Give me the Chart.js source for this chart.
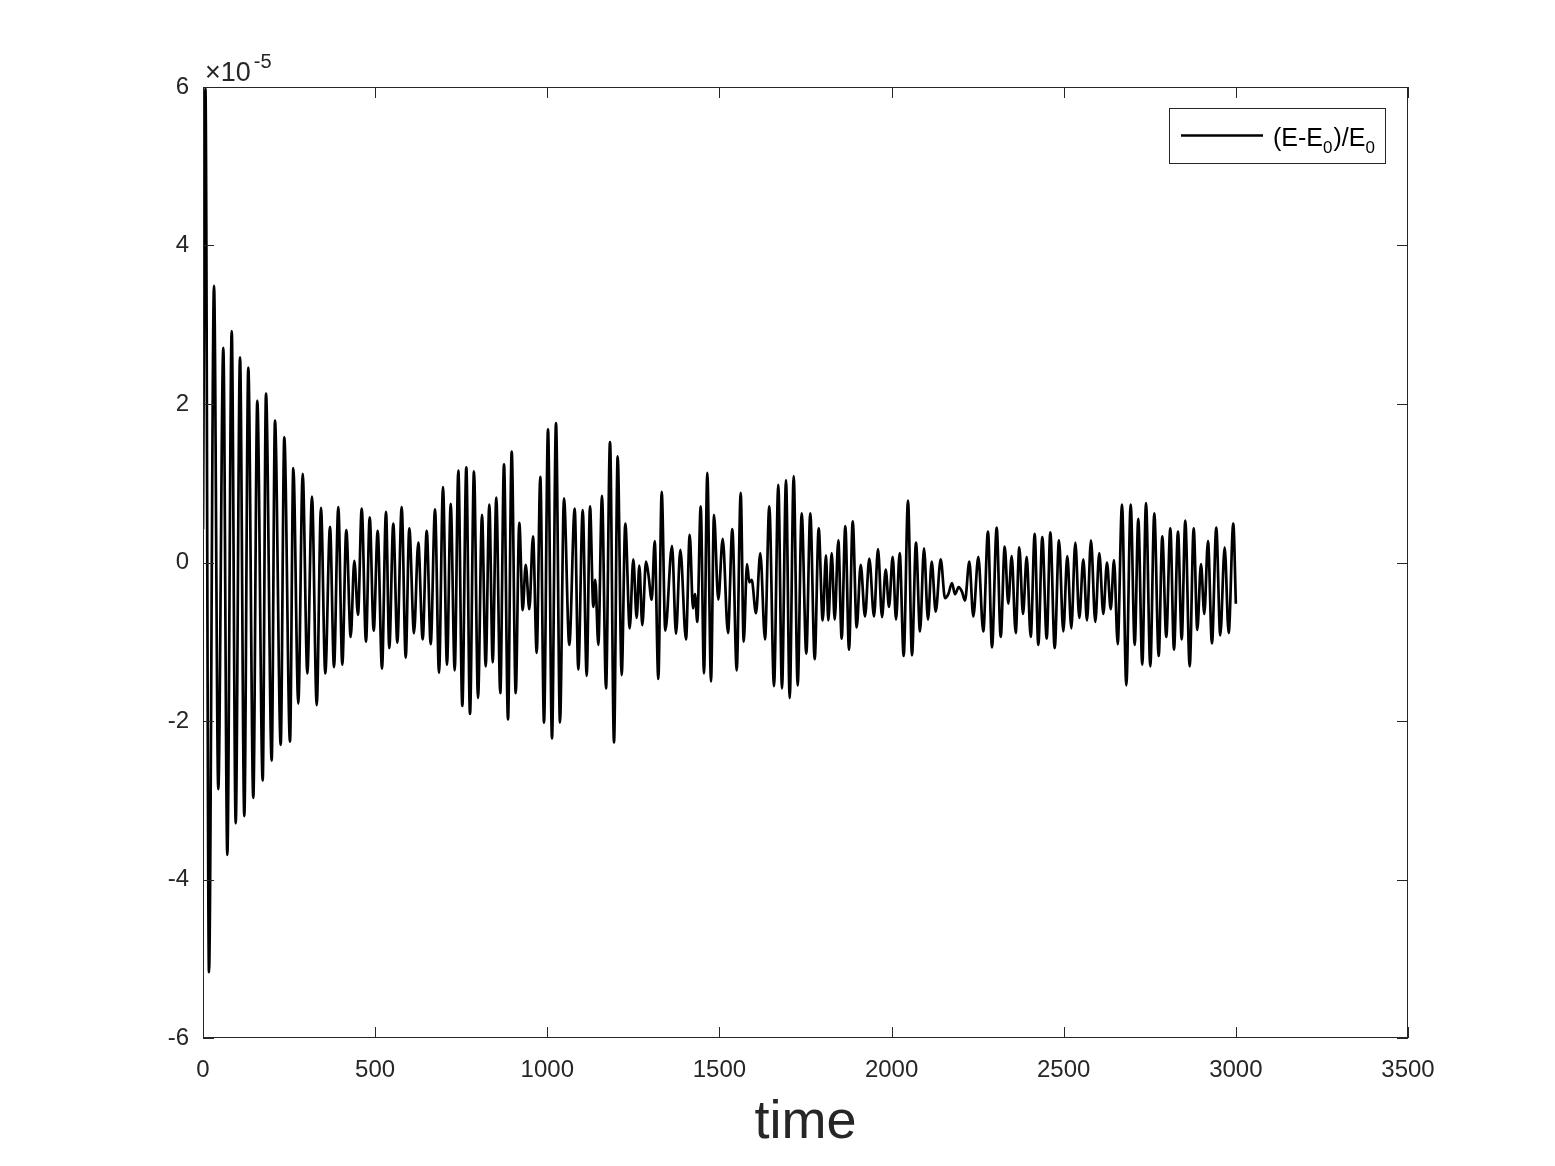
<!DOCTYPE html>
<html><head><meta charset="utf-8">
<script src="https://cdn.jsdelivr.net/npm/chart.js@4/dist/chart.umd.min.js"></script>
<style>html,body{margin:0;padding:0;background:#fff;}canvas{display:block;}</style>
</head><body>
<canvas id="c" width="1555" height="1166"></canvas>
<script>
// time samples (extrema / shape points)
const timePoints = [
  0, 7, 17.4, 32, 44.4, 59, 70.6, 83.4, 95, 107.5, 120, 131.6, 146.1, 157.7, 173.4, 183, 199.5, 209.1, 225.7, 236.1, 252.7, 262.3, 276.8, 289.6,
  303, 316.6, 330.3, 342.7, 355.2, 368.9, 380.5, 393, 404.6, 416.2, 429, 439.5, 450.2, 461, 473.4, 484.2, 495.8, 507.4, 519.9, 531.5, 541.1, 552.7, 564.4, 577.1, 588.8,
  599.2, 612.9, 625.3, 638.1, 649.8, 661.4, 673.9, 685.5, 697.1, 708.7, 719.5, 731.1, 741.6, 753.2, 764.8, 775.5, 787.1, 798.8, 810.4, 821.1, 831.6, 841.5, 851.9, 863.5, 874.3, 885.9, 896.6,
  908.3, 918.7, 928.6, 937.3, 947.8, 958.5, 969.3, 979.7, 990.5, 1002.1, 1013.7, 1025.3, 1036.9, 1048.5, 1063.9, 1079.6, 1090.1, 1102.9, 1114.5, 1124.1, 1133.7, 1139.5, 1148.2, 1158.9, 1170.6, 1182.2, 1193.8, 1204.5,
  1216.1, 1226.6, 1239.4, 1249.8, 1259.7, 1267.3, 1276, 1286.7, 1293.4, 1303.3, 1312, 1322.5, 1332.3, 1342.8, 1362.3, 1373.9, 1386.4, 1402.9, 1413.7, 1423.3, 1429, 1435.7, 1445.6, 1455.2, 1464.8, 1475.5, 1484.2, 1496.7, 1509.5,
  1524.9, 1537.4, 1550.2, 1561.8, 1570.5, 1580.1, 1586.8, 1593.7, 1606.2, 1618.7, 1632.4, 1644.8, 1658.5, 1671, 1681.7, 1693.4, 1704.1, 1715.7, 1727.3, 1738.9, 1752.3, 1763.9, 1776.7, 1788.3, 1799.9, 1809.5,
  1816.2, 1826.1, 1834.8, 1845.3, 1855.1, 1865.6, 1876.4, 1887.1, 1898.7, 1910.3, 1922.8, 1935.3, 1949, 1960.6, 1972.2, 1983, 1992.5, 2003.3, 2012.9, 2023.6, 2035.2, 2047.7, 2059.3, 2070.9, 2082.6, 2094.2, 2105.8, 2116.6,
  2128.2, 2142.7, 2155.2, 2164.8, 2175.5, 2184.3, 2195, 2204.6, 2213.3, 2225.8, 2237.4, 2251.9, 2266.4, 2280, 2291.7, 2305.3, 2317, 2328.6, 2339, 2348.9, 2360.5, 2371, 2381.7, 2392.5, 2404.1, 2415.7,
  2426.2, 2437.8, 2450.6, 2461.1, 2473.8, 2486.3, 2498.8, 2510.4, 2522.1, 2533.7, 2545.3, 2556.9, 2567.6, 2579.2, 2591.7, 2603.3, 2615, 2625.7, 2636.5, 2646.1, 2656.8, 2669.3, 2681.8, 2694.5, 2706.2, 2716.6, 2728.2,
  2739, 2751.5, 2763.1, 2775.9, 2786.3, 2797.9, 2809.6, 2820.3, 2831.9, 2842.7, 2853.1, 2865.9, 2877.5, 2888, 2898.7, 2908.3, 2919, 2930.6, 2943.1, 2954.7, 2967.5, 2979.1, 2992.5, 3000
];
// (E-E0)/E0 in units of 1e-5
const relEnergyError = [
  0.42, 5.98, -5.17, 3.49, -2.86, 2.71, -3.69, 2.92, -3.29, 2.59, -3.20, 2.46, -2.97, 2.04, -2.75, 2.13, -2.50, 1.79, -2.30, 1.58, -2.26, 1.19, -1.78, 1.12,
  -1.40, 0.83, -1.80, 0.69, -1.40, 0.45, -1.32, 0.70, -1.29, 0.41, -0.94, 0.02, -0.66, 0.68, -1.00, 0.57, -0.86, 0.40, -1.34, 0.64, -1.08, 0.49, -1.01, 0.70, -1.20,
  0.43, -0.89, 0.25, -0.97, 0.40, -1.03, 0.67, -1.39, 0.95, -1.29, 0.74, -1.36, 1.16, -1.81, 1.20, -1.91, 1.15, -1.71, 0.60, -1.31, 0.73, -1.26, 0.82, -1.65, 1.24, -1.98, 1.40,
  -1.65, 0.50, -0.60, -0.03, -0.59, 0.33, -1.14, 1.08, -2.02, 1.68, -2.22, 1.76, -2.02, 0.81, -1.04, 0.68, -1.35, 0.66, -1.43, 0.71, -0.56, -0.22, -1.04, 0.84, -1.59, 1.52, -2.27, 1.34,
  -1.42, 0.49, -0.83, 0.04, -0.70, -0.04, -0.79, 0.01, -0.14, -0.47, 0.27, -1.47, 0.89, -0.86, 0.21, -0.90, 0.16, -0.97, 0.35, -0.58, -0.40, -0.75, 0.71, -1.40, 1.13, -1.50, 0.60, -0.47, 0.30,
  -0.89, 0.42, -1.36, 0.88, -1.00, -0.02, -0.25, -0.22, -0.64, 0.12, -0.97, 0.71, -1.56, 0.98, -1.59, 1.04, -1.71, 1.09, -1.55, 0.62, -1.15, 0.62, -1.22, 0.43, -0.73, 0.09,
  -0.73, 0.12, -0.72, 0.28, -0.96, 0.46, -1.10, 0.52, -0.82, -0.03, -0.68, 0.05, -0.68, 0.17, -0.69, -0.09, -0.56, 0.07, -0.72, 0.12, -1.18, 0.78, -1.17, 0.25, -0.87, 0.18, -0.72, 0.01,
  -0.62, 0.04, -0.45, -0.40, -0.26, -0.40, -0.31, -0.37, -0.48, 0.01, -0.68, 0.07, -0.87, 0.39, -1.07, 0.44, -0.94, 0.20, -0.52, 0.08, -0.89, 0.19, -0.65, 0.07, -0.94, 0.36,
  -1.04, 0.32, -0.96, 0.38, -1.08, 0.28, -0.87, 0.08, -0.83, 0.25, -0.70, 0.04, -0.73, 0.28, -0.75, 0.12, -0.65, 0.00, -0.59, 0.03, -1.03, 0.73, -1.55, 0.73, -1.04, 0.55, -1.29,
  0.75, -1.31, 0.62, -1.18, 0.33, -0.94, 0.43, -1.10, 0.39, -0.97, 0.53, -1.31, 0.43, -0.85, -0.02, -0.65, 0.27, -1.02, 0.44, -0.92, 0.19, -0.89, 0.49, -0.52
];
const xTickValues = [0, 500, 1000, 1500, 2000, 2500, 3000, 3500];
const yTickValues = [-6, -4, -2, 0, 2, 4, 6];
const yExponentBase = '\u00D710';
const yExponent = '-5';
const xTitle = 'time';

const AX = '#262626';
const FONT = '"Liberation Sans", Arial, Helvetica, sans-serif';

const points = timePoints.map((t, i) => ({x: t, y: relEnergyError[i]}));

const framePlugin = {
  id: 'frame',
  afterDraw(chart) {
    const {ctx, chartArea: a, scales: {x, y}} = chart;
    ctx.save();
    ctx.strokeStyle = AX;
    ctx.lineWidth = 1;
    ctx.strokeRect(Math.round(a.left) + 0.5, Math.round(a.top) + 0.5, Math.round(a.right - a.left) - 1, Math.round(a.bottom - a.top) - 1);
    const tl = 11;
    ctx.beginPath();
    xTickValues.forEach(v => {
      const px = Math.round(x.getPixelForValue(v)) + 0.5;
      ctx.moveTo(px, a.bottom); ctx.lineTo(px, a.bottom - tl);
      ctx.moveTo(px, a.top); ctx.lineTo(px, a.top + tl);
    });
    yTickValues.forEach(v => {
      const py = Math.round(y.getPixelForValue(v)) + 0.5;
      ctx.moveTo(a.left, py); ctx.lineTo(a.left + tl, py);
      ctx.moveTo(a.right, py); ctx.lineTo(a.right - tl, py);
    });
    ctx.stroke();

    // exponent label
    ctx.fillStyle = AX;
    ctx.textBaseline = 'alphabetic';
    ctx.textAlign = 'left';
    ctx.font = '27px ' + FONT;
    ctx.fillText(yExponentBase, a.left + 2, a.top - 6);
    const w = ctx.measureText(yExponentBase).width;
    ctx.font = '20px ' + FONT;
    ctx.fillText(yExponent, a.left + 2 + w + 3, a.top - 19);

    // legend
    const bx = 1169.5, by = 108.5, bw = 216, bh = 55;
    ctx.fillStyle = '#fff';
    ctx.fillRect(bx, by, bw, bh);
    ctx.strokeStyle = AX;
    ctx.lineWidth = 1;
    ctx.strokeRect(bx, by, bw, bh);
    const ds = chart.data.datasets[0];
    ctx.strokeStyle = ds.borderColor;
    ctx.lineWidth = ds.borderWidth;
    ctx.beginPath();
    ctx.moveTo(1181, 135.5); ctx.lineTo(1263, 135.5);
    ctx.stroke();
    ctx.fillStyle = '#000';
    const parts = [['(E-E', false], ['0', true], [')/E', false], ['0', true]];
    let tx = 1273;
    parts.forEach(([s, sub]) => {
      ctx.font = (sub ? '17px ' : '25px ') + FONT;
      ctx.fillText(s, tx, sub ? 153 : 146);
      tx += ctx.measureText(s).width + (sub ? 1 : 0);
    });
    ctx.restore();
  }
};

new Chart(document.getElementById('c'), {
  type: 'line',
  data: {
    datasets: [{
      label: '(E-E0)/E0',
      data: points,
      borderColor: '#000000',
      backgroundColor: '#000000',
      borderWidth: 2.7,
      pointRadius: 0,
      fill: false,
      cubicInterpolationMode: 'monotone'
    }]
  },
  options: {
    responsive: false,
    animation: false,
    devicePixelRatio: 1,
    layout: {padding: {top: 87, right: 147, left: 0, bottom: 0}},
    plugins: {legend: {display: false}, tooltip: {enabled: false}},
    scales: {
      x: {
        type: 'linear',
        min: 0, max: 3500,
        afterBuildTicks: s => { s.ticks = xTickValues.map(v => ({value: v})); },
        afterFit: s => { s.height = 128; },
        grid: {display: false, drawTicks: false},
        border: {display: false},
        ticks: {
          color: AX, padding: 18, maxRotation: 0, autoSkip: false,
          font: {family: FONT, size: 24},
          callback: v => String(v)
        },
        title: {
          display: true, text: xTitle, color: AX,
          font: {family: FONT, size: 54},
          padding: {top: 0, bottom: 10}
        }
      },
      y: {
        type: 'linear',
        min: -6, max: 6,
        afterBuildTicks: s => { s.ticks = yTickValues.map(v => ({value: v})); },
        afterFit: s => { s.width = 203; },
        grid: {display: false, drawTicks: false},
        border: {display: false},
        ticks: {
          color: AX, padding: 14, autoSkip: false,
          font: {family: FONT, size: 24},
          callback: v => String(v)
        }
      }
    }
  },
  plugins: [framePlugin]
});
</script>
</body></html>
